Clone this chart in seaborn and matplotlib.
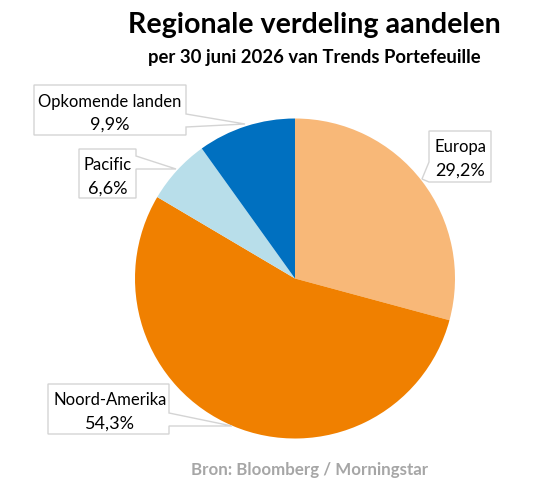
import matplotlib
matplotlib.use('Agg')
import matplotlib.pyplot as plt
from matplotlib.patches import Polygon
import seaborn as sns

# Data
regions = ['Europa', 'Noord-Amerika', 'Pacific', 'Opkomende landen']
shares = [29.2, 54.3, 6.6, 9.9]
share_labels = ['29,2%', '54,3%', '6,6%', '9,9%']
colors = ['#F8B878', '#F08000', '#B8DEEA', '#0070C0']

title = 'Regionale verdeling aandelen'
subtitle = 'per 30 juni 2026 van Trends Portefeuille'
source = 'Bron: Bloomberg / Morningstar'

sns.set_theme(style='white')
plt.rcParams['font.family'] = ['Lato', 'DejaVu Sans']

W, H = 550, 485
fig = plt.figure(figsize=(W / 100, H / 100), dpi=100)

# Pie
ax = fig.add_axes([135 / W, (H - 439.5) / H, 320 / W, 320 / H])
ax.pie(shares, colors=sns.color_palette(colors), startangle=90, counterclock=False,
       radius=1, wedgeprops={'linewidth': 0})
ax.set_xlim(-1, 1)
ax.set_ylim(-1, 1)

# Overlay in pixel coordinates for the text and the callouts
top = fig.add_axes([0, 0, 1, 1])
top.set_xlim(0, W)
top.set_ylim(H, 0)
top.axis('off')
top.patch.set_alpha(0)

callouts = {
    'Europa': [(429, 132), (491, 132), (491, 183), (429, 183), (422, 180), (429, 163)],
    'Noord-Amerika': [(48, 385), (169, 385), (169, 414), (232, 427), (169, 427), (169, 435), (48, 435)],
    'Pacific': [(79, 150), (136, 150), (136, 157), (176, 170), (136, 170), (136, 199), (79, 199)],
    'Opkomende landen': [(34, 86), (186, 86), (186, 115), (245, 125), (186, 128), (186, 136), (34, 136)],
}
centers = {
    'Europa': 460,
    'Noord-Amerika': 110,
    'Pacific': 108,
    'Opkomende landen': 110,
}

for region, label in zip(regions, share_labels):
    pts = callouts[region]
    top.add_patch(Polygon(pts, closed=True, facecolor='white', edgecolor='#D4D4D4', linewidth=1))
    y0 = pts[0][1]
    top.text(centers[region], y0 + 20.5, region, ha='center', va='baseline', fontsize=12, color='black')
    top.text(centers[region], y0 + 43.5, label, ha='center', va='baseline', fontsize=13, color='black')

top.text(314, 25, title, ha='center', va='center', fontsize=20.6, fontweight='bold', color='black')
top.text(314, 57, subtitle, ha='center', va='center', fontsize=13.3, fontweight='bold', color='black')
top.text(310, 470.5, source, ha='center', va='center', fontsize=12.2, fontweight='bold', color='#A6A6A6')

fig.savefig('out.png', dpi=100)
